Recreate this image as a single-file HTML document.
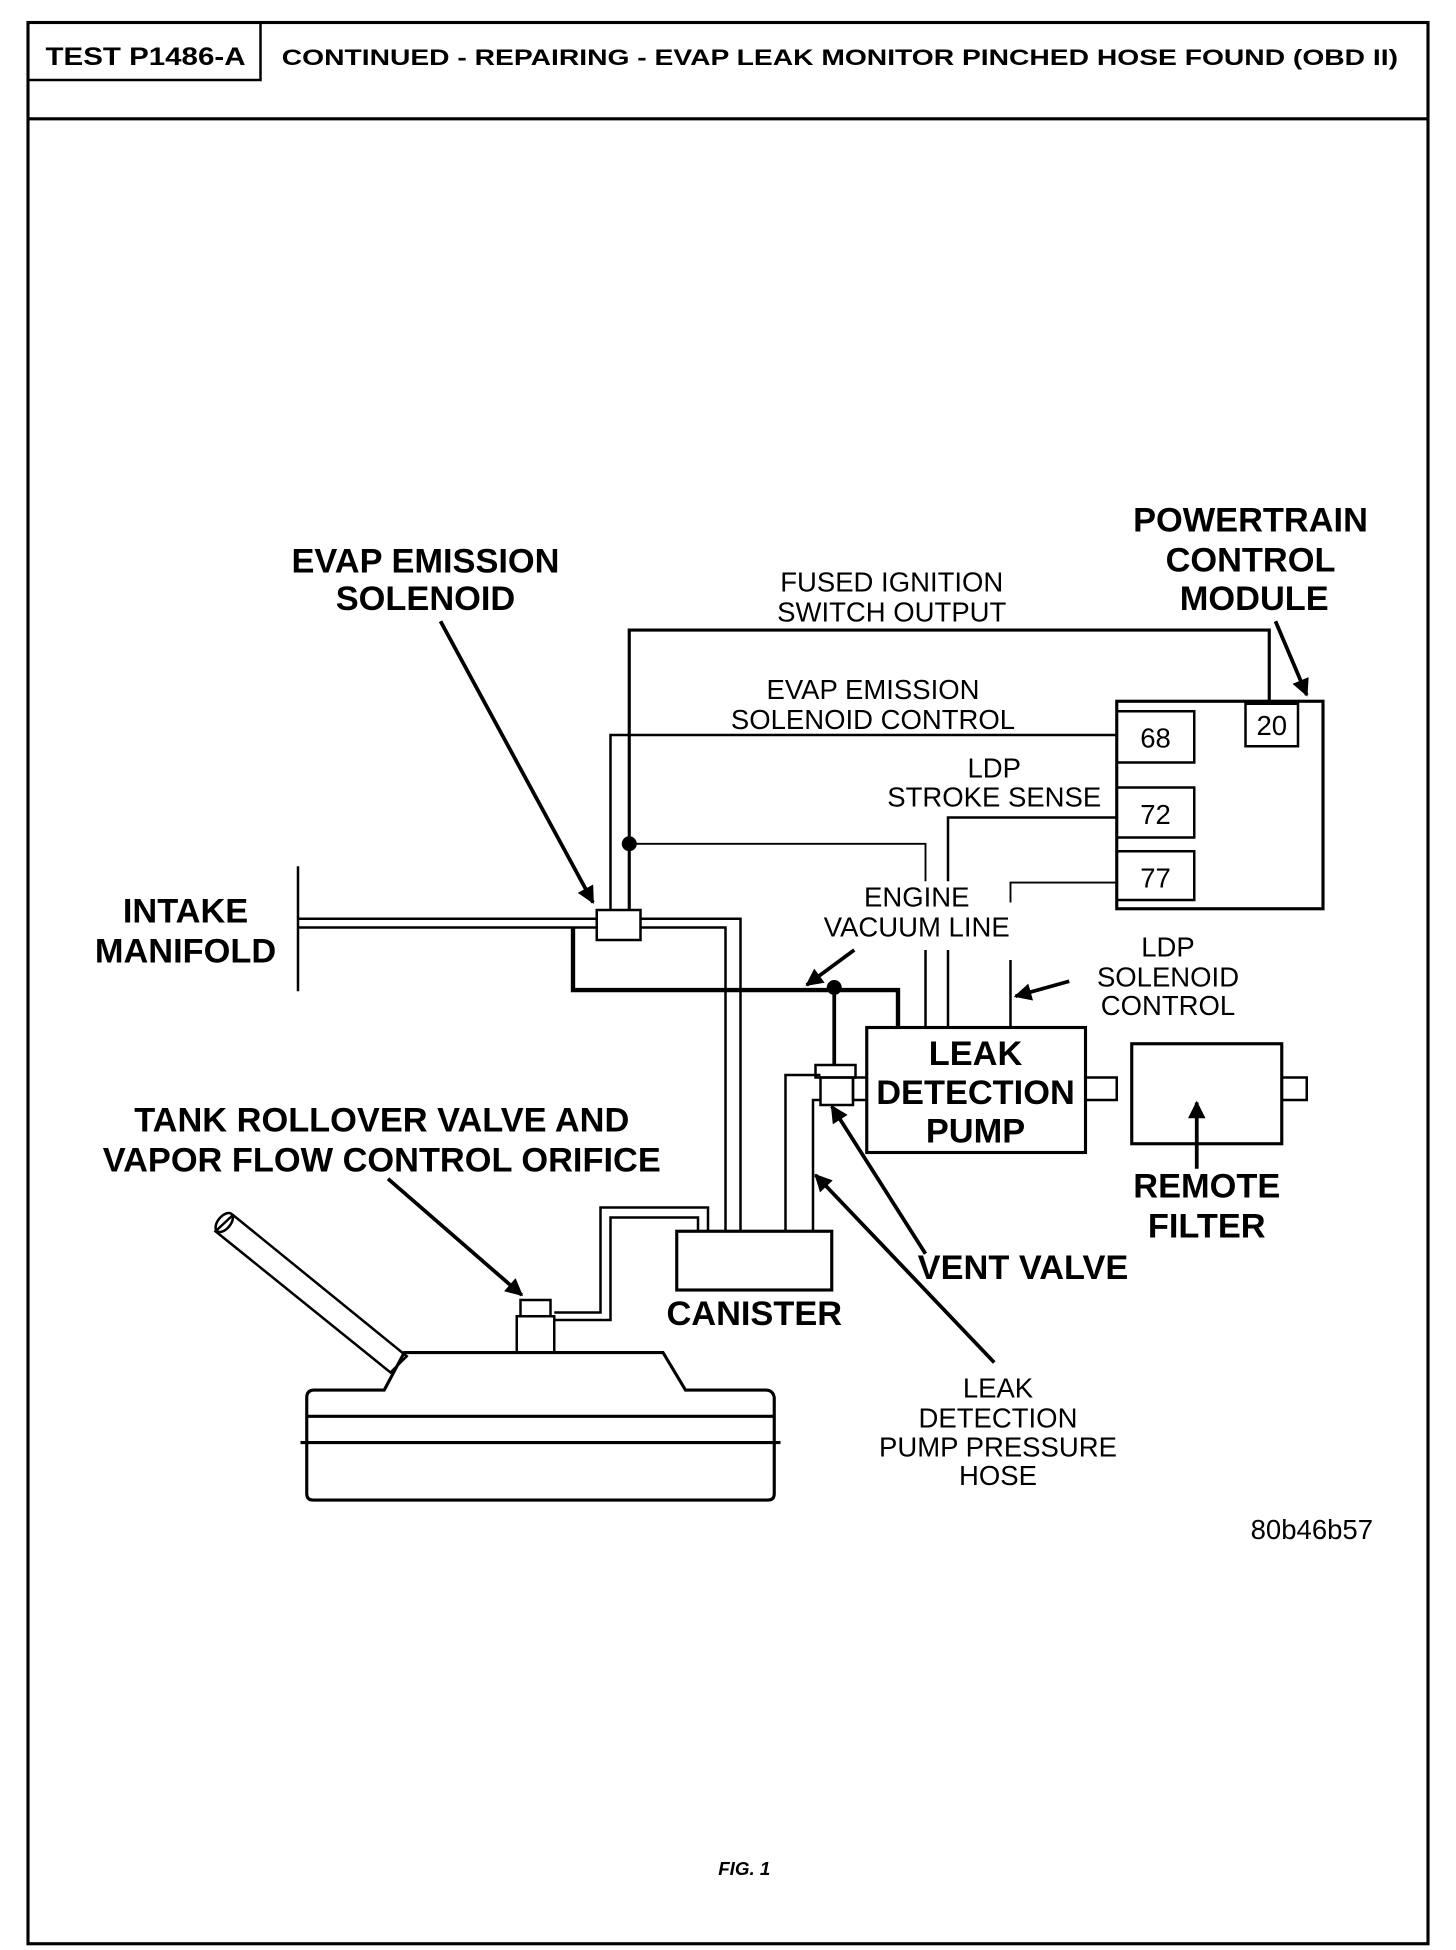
<!DOCTYPE html>
<html><head><meta charset="utf-8"><style>
html,body{margin:0;padding:0;background:#fff}
svg{display:block}
text{font-family:"Liberation Sans",sans-serif;fill:#000}
.b{font-weight:bold;font-size:27.5px}
.r{font-size:22px}
</style></head><body>
<svg width="1456" height="1950" viewBox="0 0 1164 1560" xmlns="http://www.w3.org/2000/svg">
<defs>
<marker id="A" viewBox="0 0 10 10" markerWidth="16" markerHeight="14" refX="9" refY="5" orient="auto" markerUnits="userSpaceOnUse"><path d="M0,0 L10,5 L0,10 Z" fill="#000"/></marker></defs>
<g fill="none" stroke="#000">
<rect x="22" y="18" width="1120" height="1537" stroke-width="2.5"/>
<line x1="22" y1="95" x2="1142" y2="95" stroke-width="2.5"/>
<polyline points="22,64 208,64 208,18" stroke-width="2"/>
<polyline points="503,728 503,504 1015,504 1015,563" stroke-width="2.5"/>
<polyline points="488,728 488,588 893,588" stroke-width="2"/>
<polyline points="503,675 740,675 740,705" stroke-width="1.5"/>
<line x1="740" y1="760" x2="740" y2="822" stroke-width="2"/>
<polyline points="758,705 758,654 893,654" stroke-width="2"/>
<line x1="758" y1="760" x2="758" y2="822" stroke-width="2"/>
<polyline points="808,722 808,706 893,706" stroke-width="1.5"/>
<line x1="808" y1="768" x2="808" y2="822" stroke-width="2"/>
<rect x="893" y="561" width="165" height="166" stroke-width="2.5"/>
<rect x="893" y="569" width="62" height="41" stroke-width="2"/>
<rect x="996" y="563" width="42" height="34" stroke-width="2"/>
<rect x="893" y="630" width="62" height="40" stroke-width="2"/>
<rect x="893" y="681" width="62" height="39" stroke-width="2"/>
<line x1="238" y1="693" x2="238" y2="793" stroke-width="2"/>
<line x1="238" y1="735" x2="477" y2="735" stroke-width="2"/>
<line x1="238" y1="742" x2="477" y2="742" stroke-width="2"/>
<rect x="477" y="728" width="35" height="24" stroke-width="2"/>
<polyline points="512,735 592,735 592,985" stroke-width="2"/>
<polyline points="512,742 580,742 580,985" stroke-width="2"/>
<polyline points="458,742 458,792 718,792 718,822" stroke-width="3.5"/>
<line x1="667" y1="790" x2="667" y2="852" stroke-width="3"/>
<rect x="652" y="852" width="32" height="10" stroke-width="2"/>
<rect x="656" y="862" width="26" height="22" stroke-width="2"/>
<rect x="682" y="862" width="11" height="18" stroke-width="2"/>
<polyline points="628,985 628,860 656,860" stroke-width="2"/>
<polyline points="650,985 650,880 656,880" stroke-width="2"/>
<rect x="693" y="822" width="175" height="100" stroke-width="2.5"/>
<rect x="868" y="862" width="25" height="18" stroke-width="2"/>
<rect x="905" y="835" width="120" height="80" stroke-width="2.5"/>
<rect x="1025" y="862" width="20" height="18" stroke-width="2"/>
<rect x="541" y="985" width="124" height="47" stroke-width="2.5"/>
<polyline points="443,1050 480,1050 480,966 566,966 566,985" stroke-width="2"/>
<polyline points="443,1056 488,1056 488,974 558,974 558,985" stroke-width="2"/>
<rect x="413" y="1053" width="30" height="29" stroke-width="2"/>
<rect x="416" y="1040" width="24" height="13" stroke-width="2"/>
<path d="M323,1082 L530,1082 L548,1112 L612,1112 Q618,1112 619,1118 L619,1195 Q619,1200 614,1200 L250,1200 Q245,1200 245,1195 L245,1118 Q245,1112 251,1112 L307,1112 Z" stroke-width="2.5"/>
<line x1="245" y1="1133" x2="619" y2="1133" stroke-width="2.5"/>
<line x1="240" y1="1154" x2="624" y2="1154" stroke-width="2.5"/>
<polygon points="172,985 186,972 325,1085 312,1098" stroke-width="2"/>
<ellipse cx="179" cy="978" rx="5" ry="9" transform="rotate(40 179 978)" stroke-width="2"/>
</g>
<circle cx="503" cy="675" r="6"/>
<circle cx="667" cy="790" r="6"/>
<g stroke="#000" stroke-width="3" fill="none" marker-end="url(#A)">
<line x1="352" y1="497" x2="474" y2="722"/>
<line x1="1020" y1="497" x2="1045" y2="556"/>
<line x1="683" y1="760" x2="645" y2="788"/>
<line x1="855" y1="785" x2="812" y2="797"/>
<line x1="740" y1="1003" x2="665" y2="885"/>
<line x1="795" y1="1090" x2="652" y2="940"/>
<line x1="957" y1="935" x2="957" y2="882"/>
<line x1="310" y1="943" x2="417" y2="1036"/>
</g>
<text x="36" y="52" style="font-weight:bold;font-size:20px" textLength="160" lengthAdjust="spacingAndGlyphs">TEST P1486-A</text>
<text x="225" y="52" style="font-weight:bold;font-size:18px" textLength="893" lengthAdjust="spacingAndGlyphs">CONTINUED - REPAIRING - EVAP LEAK MONITOR PINCHED HOSE FOUND (OBD II)</text>
<g class="b" text-anchor="middle">
<text x="340" y="458">EVAP EMISSION</text><text x="340" y="488">SOLENOID</text>
<text x="1000" y="425">POWERTRAIN</text><text x="1000" y="457">CONTROL</text><text x="1003" y="488">MODULE</text>
<text x="148" y="738">INTAKE</text><text x="148" y="770">MANIFOLD</text>
<text x="305" y="905">TANK ROLLOVER VALVE AND</text><text x="305" y="937">VAPOR FLOW CONTROL ORIFICE</text>
<text x="965" y="958">REMOTE</text><text x="965" y="990">FILTER</text>
<text x="603" y="1060">CANISTER</text>
<text x="780" y="852">LEAK</text><text x="780" y="883">DETECTION</text><text x="780" y="914">PUMP</text>
<text x="818" y="1023">VENT VALVE</text>
</g>
<g class="r" text-anchor="middle">
<text x="713" y="473">FUSED IGNITION</text><text x="713" y="497">SWITCH OUTPUT</text>
<text x="698" y="559">EVAP EMISSION</text><text x="698" y="583">SOLENOID CONTROL</text>
<text x="795" y="622">LDP</text><text x="795" y="645">STROKE SENSE</text>
<text x="733" y="725">ENGINE</text><text x="733" y="749">VACUUM LINE</text>
<text x="934" y="765">LDP</text><text x="934" y="789">SOLENOID</text><text x="934" y="812">CONTROL</text>
<text x="798" y="1118">LEAK</text><text x="798" y="1142">DETECTION</text><text x="798" y="1165">PUMP PRESSURE</text><text x="798" y="1188">HOSE</text>
<text x="924" y="598">68</text><text x="1017" y="588">20</text><text x="924" y="659">72</text><text x="924" y="710">77</text>
</g>
<text x="1098" y="1231" text-anchor="end" style="font-size:22px">80b46b57</text>
<text x="595" y="1500" text-anchor="middle" style="font-size:15px;font-weight:bold;font-style:italic">FIG. 1</text>
</svg>
</body></html>
